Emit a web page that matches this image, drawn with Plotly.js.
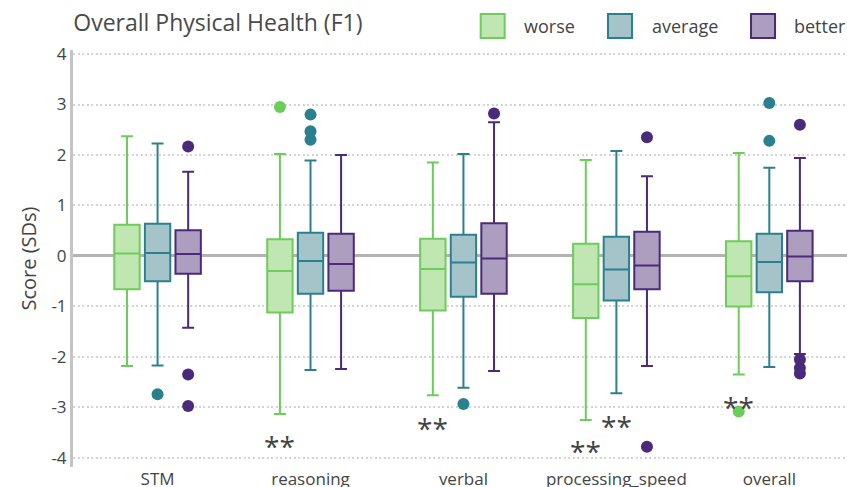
<!DOCTYPE html>
<html>
<head>
<meta charset="utf-8">
<script src="https://cdn.plot.ly/plotly-3.0.1.min.js"></script>
<style>html,body{margin:0;padding:0;background:#fff;}#chart{width:847px;height:487px;}</style>
</head>
<body>
<div id="chart"></div>
<script>
var categories = ["STM", "reasoning", "verbal", "processing_speed", "overall"];
var groups = ["worse", "average", "better"];

var worseQ1 = [-0.66, -1.12, -1.08, -1.23, -1.00];
var worseMedian = [0.05, -0.30, -0.26, -0.56, -0.40];
var worseQ3 = [0.62, 0.33, 0.34, 0.24, 0.29];
var worseLow = [-2.18, -3.13, -2.76, -3.25, -2.35];
var worseHigh = [2.37, 2.02, 1.85, 1.90, 2.04];
var worseOutliers = [[], [2.95], [], [], [-3.08]];

var averageQ1 = [-0.50, -0.75, -0.81, -0.88, -0.72];
var averageMedian = [0.06, -0.10, -0.13, -0.27, -0.12];
var averageQ3 = [0.64, 0.46, 0.42, 0.38, 0.44];
var averageLow = [-2.17, -2.26, -2.61, -2.72, -2.20];
var averageHigh = [2.23, 1.89, 2.02, 2.08, 1.75];
var averageOutliers = [[-2.74], [2.80, 2.47, 2.30], [-2.93], [], [3.03, 2.28]];

var betterQ1 = [-0.35, -0.69, -0.75, -0.66, -0.50];
var betterMedian = [0.04, -0.16, -0.05, -0.19, -0.01];
var betterQ3 = [0.51, 0.44, 0.65, 0.48, 0.50];
var betterLow = [-1.42, -2.24, -2.28, -2.18, -1.94];
var betterHigh = [1.67, 2.00, 2.65, 1.58, 1.94];
var betterOutliers = [[2.17, -2.35, -2.97], [], [2.82], [2.35, -3.78], [2.60, -2.05, -2.22, -2.33]];

// significance markers: category, group, y value
var sigCategory = ["reasoning", "verbal", "processing_speed", "processing_speed", "overall"];
var sigGroup = ["worse", "worse", "worse", "average", "worse"];
var sigY = [-3.66, -3.31, -3.76, -3.27, -2.89];

var lineColors = ["#6ccd5a", "#2a808e", "#4a2a7b"];
var fillColors = ["#c0e6b1", "#a5c4ca", "#ad9dbf"];
var FONT = "'Open Sans', sans-serif";

var stats = [
  [worseQ1, worseMedian, worseQ3, worseLow, worseHigh, worseOutliers],
  [averageQ1, averageMedian, averageQ3, averageLow, averageHigh, averageOutliers],
  [betterQ1, betterMedian, betterQ3, betterLow, betterHigh, betterOutliers]
];

var traces = groups.map(function (g, i) {
  var s = stats[i];
  // sample arrays: outliers plus the median (inside the box, so not drawn) to keep every row non-empty
  var samples = s[5].map(function (o, j) { return o.concat([s[1][j]]); });
  return {
    type: "box",
    name: g,
    x: categories,
    q1: s[0], median: s[1], q3: s[2], lowerfence: s[3], upperfence: s[4],
    y: samples,
    boxpoints: "outliers",
    line: {color: lineColors[i], width: 2},
    fillcolor: fillColors[i],
    marker: {color: lineColors[i], size: 12, line: {width: 0}},
    whiskerwidth: 0.47,
    showlegend: false
  };
});

var groupOffset = 0.2;
var annotations = sigCategory.map(function (c, k) {
  return {
    x: categories.indexOf(c) + (groups.indexOf(sigGroup[k]) - 1) * groupOffset,
    y: sigY[k],
    xref: "x", yref: "y",
    yshift: -5,
    text: "**",
    showarrow: false,
    font: {family: FONT, size: 28, color: "#444"}
  };
});

// custom legend (paper coordinates of the plot area)
var shapes = [];
var legendSquareX = [0.5267, 0.6912, 0.876];
var legendTextX = [0.5797, 0.7455, 0.9286];
groups.forEach(function (g, i) {
  shapes.push({
    type: "rect", xref: "paper", yref: "paper",
    x0: legendSquareX[i], x1: legendSquareX[i] + 0.031,
    y0: 1.0288, y1: 1.0863,
    fillcolor: fillColors[i], line: {color: lineColors[i], width: 2}
  });
  annotations.push({
    xref: "paper", yref: "paper", x: legendTextX[i], y: 1.0576,
    xanchor: "left", yanchor: "middle", showarrow: false, text: g,
    font: {family: FONT, size: 18, color: "#444"}
  });
});

var layout = {
  width: 847, height: 487,
  margin: {l: 73, r: 0, t: 50, b: 20, pad: 0},
  paper_bgcolor: "#fff", plot_bgcolor: "#fff",
  font: {family: FONT, color: "#444", size: 16},
  title: {text: "Overall Physical Health (F1)", x: 0.0865, xanchor: "left", y: 0.953, yanchor: "middle",
          font: {family: FONT, size: 23, color: "#4a4a4a"}},
  boxmode: "group",
  boxgap: 0.4,
  boxgroupgap: 0.17,
  showlegend: false,
  xaxis: {
    type: "category",
    range: [-0.553, 4.508],
    showgrid: false, zeroline: false, showline: false,
    ticks: "", tickfont: {family: FONT, size: 17, color: "#444"},
    automargin: false
  },
  yaxis: {
    range: [-4.18, 4.08],
    tickvals: [-4, -3, -2, -1, 0, 1, 2, 3, 4],
    ticktext: ["-4", "-3", "-2", "-1", "0", "1", "2", "3", "4"],
    showgrid: true, gridcolor: "#d4d4d4", gridwidth: 2, griddash: "2px,2.5px",
    zeroline: true, zerolinecolor: "#b3b3b3", zerolinewidth: 3,
    showline: true, linecolor: "#c4c4c4", linewidth: 3,
    ticks: "", tickfont: {family: FONT, size: 17, color: "#444"},
    title: {text: "Score (SDs)", font: {family: FONT, size: 20, color: "#444"}, standoff: 10},
    automargin: false
  },
  shapes: shapes,
  annotations: annotations
};

Plotly.newPlot("chart", traces, layout, {displayModeBar: false, staticPlot: true});
</script>
</body>
</html>
